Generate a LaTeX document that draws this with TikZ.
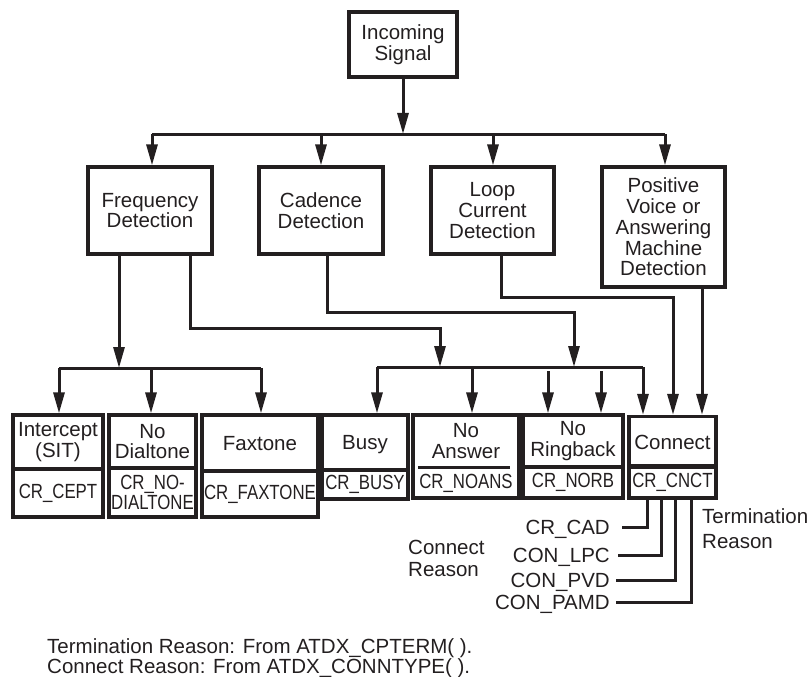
\documentclass[tikz,border=0pt]{standalone}
\usepackage{fontspec}
\setmainfont{Liberation Sans}
\usepackage{graphicx}
\usetikzlibrary{arrows.meta}
\definecolor{ink}{HTML}{231F20}
\newcommand{\cnd}[1]{\scalebox{0.82}[1]{#1}}
\begin{document}
\begin{tikzpicture}[x=1pt,y=-1pt,
  txt/.style={font=\fontsize{20.5}{20.7}\selectfont, text=ink, align=center, inner sep=0pt},
  bx/.style={txt, draw=ink, line width=3.3pt},
  wh/.style 2 args={minimum width=#1pt, minimum height=#2pt},
  ln/.style={draw=ink, line width=3pt},
  arr/.style={ln, -{Triangle[length=21pt,width=11pt]}},
  lab/.style={txt, text depth=0pt, inner ysep=0pt, inner xsep=6pt, anchor=east}]
\useasboundingbox (0,0) rectangle (812,677);

% top
\node[bx, wh={108}{65}] (inc) at (403,44.5) {Incoming\\Signal};
\node[bx, wh={124}{87}] (freq) at (150,210.5) {Frequency\\Detection};
\node[bx, wh={124}{87}] (cad) at (321,210.5) {Cadence\\Detection};
\node[bx, wh={123}{87}] (loop) at (492.5,210.5) {Loop\\Current\\Detection};
\node[bx, wh={123}{120}] (pos) at (663.5,227) {Positive\\Voice or\\Answering\\Machine\\Detection};

% lower boxes
\node[bx, wh={90}{54}] (int) at (58,442) {Intercept\\(SIT)};
\node[bx, wh={90}{48}] (intc) at (58,493) {\cnd{CR\_CEPT}};
\node[bx, wh={87}{53}] (nd) at (152.5,441.5) {No\\Dialtone};
\node[bx, wh={87}{49}] (ndc) at (152.5,492.5) {\cnd{CR\_NO-}\\\cnd{DIALTONE}};
\node[bx, wh={116}{56}, text depth=0pt] (fax) at (260,443) {Faxtone};
\node[bx, wh={116}{46}] (faxc) at (260,494) {\cnd{CR\_FAXTONE}};
\node[bx, wh={86}{55}, text depth=0pt] (busy) at (365,442.5) {Busy};
\node[bx, wh={86}{29}] (busyc) at (365,484.5) {\cnd{CR\_BUSY}};
\node[bx, wh={106}{83}] (na) at (466,456.5) {};
\node[txt] (nat) at (466,441) {No\\Answer};
\node[txt] (nac) at (466,483) {\cnd{CR\_NOANS}};
\draw[ink, line width=3pt] (418,467) -- (510,467);
\node[bx, wh={100}{52}] (norb) at (573,441) {No\\Ringback};
\node[bx, wh={100}{31}] (norbc) at (573,482.5) {\cnd{CR\_NORB}};
\node[bx, wh={87}{51}, text depth=0pt] (cnct) at (672.5,442) {Connect};
\node[bx, wh={87}{32}] (cc) at (672.5,482) {\cnd{CR\_CNCT}};

% top bus
\coordinate (tbF) at (152,134);
\coordinate (tbC) at (321,134);
\coordinate (tbL) at (493,134);
\coordinate (tbP) at (665,134);
\draw[arr] (inc.south) -- (inc.south |- tbF);
\draw[ln] (tbF) -- (tbP);
\draw[arr] (tbF) -- (tbF |- freq.north);
\draw[arr] (tbC) -- (tbC |- cad.north);
\draw[arr] (tbL) -- (tbL |- loop.north);
\draw[arr] (tbP) -- (tbP |- pos.north);

% left bus
\coordinate (fA) at (119,368);
\coordinate (lb1) at (59,368);
\coordinate (lb2) at (151,368);
\coordinate (lb3) at (261,368);
\draw[arr] (freq.south -| fA) -- (fA);
\draw[ln] (lb1) -- (lb3);
\draw[arr] (lb1) -- (lb1 |- int.north);
\draw[arr] (lb2) -- (lb2 |- nd.north);
\draw[arr] (lb3) -- (lb3 |- fax.north);

% routed lines
\coordinate (fB) at (190,328);
\coordinate (rbA) at (440,367);
\coordinate (cB) at (327,312);
\coordinate (rbB) at (574,367);
\coordinate (lB) at (501,297);
\coordinate (cnL) at (673,415);
\coordinate (cnP) at (702,415);
\draw[arr] (freq.south -| fB) -- (fB) -| (rbA);
\draw[arr] (cad.south -| cB) -- (cB) -| (rbB);
\draw[arr] (loop.south -| lB) -- (lB) -| (cnL |- cnct.north);
\draw[arr] (pos.south -| cnP) -- (cnP |- cnct.north);

% right bus
\coordinate (rbL) at (377,367);
\coordinate (rbN) at (472,367);
\coordinate (rbR) at (643,367);
\coordinate (fl1) at (548,371);
\coordinate (fl2) at (601,371);
\draw[ln] (rbL) -- (rbR);
\draw[arr] (rbL) -- (rbL |- busy.north);
\draw[arr] (rbN) -- (rbN |- na.north);
\draw[arr] (rbR) -- (rbR |- cnct.north);
\draw[arr] (fl1) -- (fl1 |- norb.north);
\draw[arr] (fl2) -- (fl2 |- norb.north);

% connect reasons
\node[lab, inner xsep=12pt] (lcad) at (622,527) {CR\_CAD};
\node[lab, inner xsep=8pt] (llpc) at (618,555) {CON\_LPC};
\node[lab] (lpvd) at (616,580) {CON\_PVD};
\node[lab] (lpamd) at (616,602) {CON\_PAMD};
\coordinate (v1) at (647,0);
\coordinate (v2) at (661,0);
\coordinate (v3) at (675,0);
\coordinate (v4) at (691,0);
\draw[ln] (v1 |- cc.south) |- (lcad.east);
\draw[ln] (v2 |- cc.south) |- (llpc.east);
\draw[ln] (v3 |- cc.south) |- (lpvd.east);
\draw[ln] (v4 |- cc.south) |- (lpamd.east);

\node[txt, align=left, anchor=north west, font=\fontsize{20.5}{22}\selectfont] (cr) at (408,540) {Connect\\Reason};
\node[txt, align=left, anchor=north west, font=\fontsize{20.5}{25}\selectfont] (tr) at (702,508) {Termination\\Reason};

\node[txt, align=left, anchor=north west, font=\fontsize{20.5}{17}\selectfont] (foot) at (47,638)
  {Termination Reason: From ATDX\_CPTERM( ).\\Connect Reason: From ATDX\_CONNTYPE( ).};
\end{tikzpicture}
\end{document}
